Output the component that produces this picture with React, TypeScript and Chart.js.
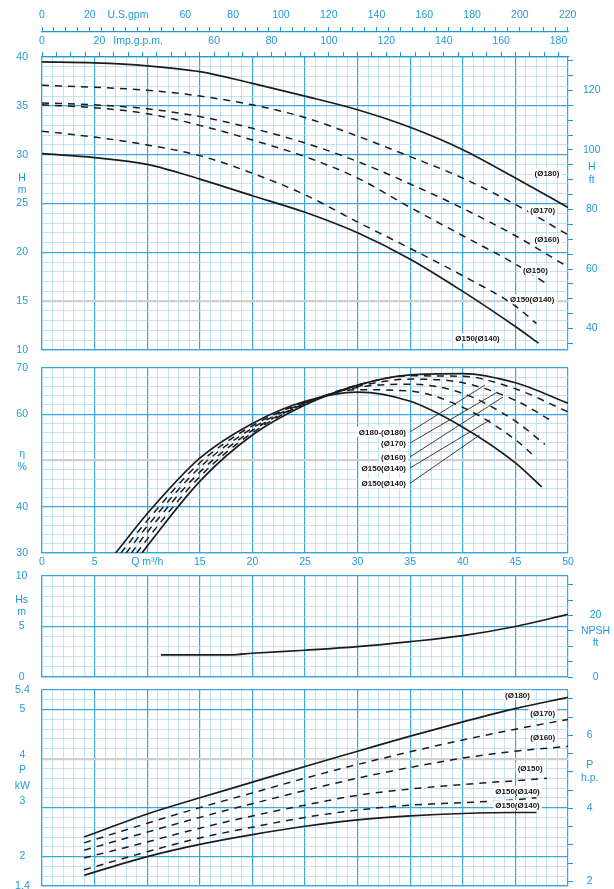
import React, { useEffect, useRef } from 'react';
import { Chart, registerables } from 'chart.js';

Chart.register(...registerables);

// ---------------- constants ----------------
const FT_PER_M = 3.28084;
const USGPM_PER_M3H = 4.402868;
const IMPGPM_PER_M3H = 3.666154;
const KW_PER_HP = 0.7457;

// ---------------- flow axis ----------------
const qMin = 0;
const qMax = 50;
const qTickLabels = [0, 5, 15, 20, 25, 30, 35, 40, 45, 50];
const qTitleAt = 10;
const qTitle = 'Q m³/h';

const usGpmLabels = [0, 20, 60, 80, 100, 120, 140, 160, 180, 200, 220];
const usGpmTitleAt = 36;
const usGpmTitle = 'U.S.gpm';
const impGpmLabels = [0, 20, 60, 80, 100, 120, 140, 160, 180];
const impGpmTitleAt = 33.5;
const impGpmTitle = 'Imp.g.p.m.';

// ---------------- head panel ----------------
const headTickValues = [40, 35, 30, 27, 25, 20, 15, 10];
const headTickTexts: any[] = ['40', '35', '30', ['H', 'm'], '25', '20', '15', '10'];
const ftTickValues = [40, 60, 80, 92, 100, 120];
const ftTickTexts: any[] = ['40', '60', '80', ['H', 'ft'], '100', '120'];
const ftLabelOnly = [92];

const qHeadA = [0, 5, 10, 15, 20, 25, 30, 35, 40, 45, 50];
const headA = [39.5, 39.4, 39.1, 38.5, 37.3, 36.0, 34.6, 32.8, 30.5, 27.6, 24.6];
const qHeadB = [0, 5, 10, 15, 20, 25, 30, 35, 40, 45, 50];
const headB = [37.1, 36.9, 36.6, 36.0, 35.1, 33.8, 31.9, 29.8, 27.6, 24.9, 21.8];
const qHeadC = [0, 5, 10, 15, 20, 25, 30, 35, 40, 45, 50];
const headC = [35.3, 35.1, 34.7, 33.9, 32.7, 31.2, 29.3, 27.0, 24.5, 21.7, 18.5];
const qHeadD = [0, 5, 10, 15, 20, 25, 30, 35, 40, 45, 47.8];
const headD = [35.1, 34.8, 34.2, 33.0, 31.5, 29.8, 27.6, 24.6, 21.7, 18.8, 16.9];
const qHeadE = [0, 5, 10, 15, 20, 25, 30, 35, 40, 45, 47];
const headE = [32.4, 31.8, 31.0, 29.9, 28.1, 25.9, 23.1, 20.4, 17.6, 14.5, 12.7];
const qHeadF = [0, 5, 10, 15, 20, 25, 30, 35, 40, 45, 47.2];
const headF = [30.1, 29.7, 29.0, 27.5, 25.8, 24.1, 22.0, 19.3, 16.0, 12.4, 10.7];

const curveNames = ['(Ø180)', '(Ø170)', '(Ø160)', '(Ø150)', 'Ø150(Ø140)', 'Ø150(Ø140)'];
const headLabelQ = [48.0, 47.6, 48.0, 46.9, 46.6, 41.4];
const headLabelH = [28.1, 24.3, 21.3, 18.2, 15.2, 11.2];

// ---------------- efficiency panel ----------------
const effTickValues = [70, 60, 50, 40, 30];
const effTickTexts: any[] = ['70', '60', ['η', '%'], '40', '30'];

const qEffA = [9.5, 10, 15, 20, 25, 30, 35, 40, 45, 50];
const effA = [30, 31.5, 45.5, 55.5, 62, 66.3, 68.5, 68.8, 66.8, 62.4];
const qEffB = [9, 10, 15, 20, 25, 30, 35, 40, 45, 50];
const effB = [30, 33, 46.5, 56, 62.3, 66.3, 68.3, 68.2, 65.5, 60.5];
const qEffC = [8.5, 10, 15, 20, 25, 30, 35, 40, 45, 48.3];
const effC = [30, 34.5, 47.5, 56.5, 62.3, 66, 67.6, 66.8, 63, 58.8];
const qEffD = [8, 10, 15, 20, 25, 30, 35, 40, 45, 47.8];
const effD = [30, 35.8, 48.5, 57, 62.5, 65.8, 66.5, 64.5, 58.5, 53.5];
const qEffE = [7.5, 10, 15, 20, 25, 30, 35, 40, 45, 47];
const effE = [30, 37, 49.5, 57.5, 62.6, 65.3, 65, 61.5, 54.5, 50.5];
const qEffF = [7, 10, 15, 20, 25, 30, 35, 40, 45, 47.5];
const effF = [30, 38.5, 50.5, 58, 62.8, 64.8, 62.8, 57.2, 49.5, 44.3];

const effLegendNames = ['Ø180-(Ø180)', '(Ø170)', '(Ø160)', 'Ø150(Ø140)', 'Ø150(Ø140)'];
const effLegendQ = 34.6;
const effLegendEta = [56.2, 53.8, 50.8, 48.4, 45.1];
const leaderStartQ = 35.0;
const leaderEndQ = [42.1, 43.3, 43.8, 42.6, 41.6];
const leaderEndEta = [66.3, 64.8, 63.7, 58.8, 55.5];

// ---------------- NPSH panel ----------------
const npshTickValues = [10, 7, 5, 0];
const npshTickTexts: any[] = ['10', ['Hs', 'm'], '5', '0'];
const npshFtValues = [0, 13, 20];
const npshFtTexts: any[] = ['0', ['NPSH', 'ft'], '20'];
const npshFtLabelOnly = [13];

const qNpsh = [11.3, 15, 18, 20, 25, 30, 35, 40, 45, 50];
const npsh = [2.2, 2.2, 2.2, 2.35, 2.65, 3.0, 3.5, 4.1, 5.0, 6.2];

// ---------------- power panel ----------------
const powTickValues = [5.4, 5, 3.6, 2, 1.4];
const powTickTexts: any[] = ['5.4', '5', ['4', 'P', 'kW', '3'], '2', '1.4'];
const hpTickValues = [2, 4, 5, 6];
const hpTickTexts: any[] = ['2', '4', ['P', 'h.p.'], '6'];

const qPowA = [4, 10, 15, 20, 25, 30, 35, 40, 45, 50];
const powA = [2.40, 2.87, 3.2, 3.52, 3.84, 4.15, 4.46, 4.75, 5.02, 5.25];
const qPowB = [4, 10, 15, 20, 25, 30, 35, 40, 45, 50];
const powB = [2.28, 2.68, 3.0, 3.3, 3.6, 3.88, 4.14, 4.38, 4.6, 4.8];
const qPowC = [4, 10, 15, 20, 25, 30, 35, 40, 45, 50];
const powC = [2.13, 2.5, 2.8, 3.08, 3.35, 3.6, 3.82, 4.01, 4.15, 4.25];
const qPowD = [4, 10, 15, 20, 25, 30, 35, 40, 45, 48];
const powD = [1.97, 2.3, 2.58, 2.83, 3.05, 3.25, 3.38, 3.47, 3.55, 3.6];
const qPowE = [4, 10, 15, 20, 25, 30, 35, 40, 45, 47];
const powE = [1.73, 2.1, 2.38, 2.6, 2.8, 2.95, 3.05, 3.1, 3.16, 3.2];
const qPowF = [4, 10, 15, 20, 25, 30, 35, 40, 45, 47];
const powF = [1.62, 2.0, 2.25, 2.45, 2.62, 2.75, 2.83, 2.88, 2.9, 2.9];

const powLabelQ = [45.2, 47.6, 47.6, 46.4, 45.2, 45.2];
const powLabelP = [5.30, 4.93, 4.44, 3.81, 3.34, 3.05];

// ---------------- styles ----------------
const BLUE = '#1f9ad6';
const MAJOR = '#3aa5de';
const MINOR = '#a6d7f0';
const GREY = '#cfcfcf';
const LINE = '#1c1c1c';
const FONT = "'Liberation Sans', Arial, sans-serif";
const tickFont = { family: FONT, size: 10.5 };

const near = (a: number, b: number) => Math.abs(a - b) < 1e-6;

function pickLabel(v: number, values: number[], texts: any[]) {
  for (let i = 0; i < values.length; i++) if (near(values[i], v)) return texts[i];
  return '';
}

function gridStyle(majorEvery: number, greyVals: number[], min: number, max: number) {
  const kind = (ctx: any) => {
    const v = ctx.tick ? ctx.tick.value : null;
    if (v == null) return 'minor';
    if (greyVals.some((g) => near(g, v))) return 'grey';
    const r = v / majorEvery;
    if (near(r, Math.round(r)) || near(v, min) || near(v, max)) return 'major';
    return 'minor';
  };
  return {
    drawTicks: false,
    color: (ctx: any) => {
      const k = kind(ctx);
      return k === 'grey' ? GREY : k === 'major' ? MAJOR : MINOR;
    },
    lineWidth: (ctx: any) => {
      const k = kind(ctx);
      return k === 'grey' ? 2.2 : k === 'major' ? 1.2 : 0.7;
    },
  };
}

function qAxis(showLabels: boolean) {
  return {
    type: 'linear',
    axis: 'x',
    position: 'bottom',
    min: qMin,
    max: qMax,
    afterFit: (s: any) => {
      s.height = showLabels ? 16 : 0;
    },
    ticks: {
      stepSize: 1,
      autoSkip: false,
      maxRotation: 0,
      minRotation: 0,
      display: showLabels,
      padding: 3,
      color: BLUE,
      font: tickFont,
      callback: (v: number) =>
        near(v, qTitleAt) ? qTitle : qTickLabels.some((l) => near(l, v)) ? String(v) : '',
    },
    grid: gridStyle(5, [], qMin, qMax),
    border: { display: true, color: MAJOR, width: 1.2 },
  };
}

function topAxis(factor: number, labels: number[], titleAt: number, title: string, height: number, pad: number, weight: number) {
  return {
    type: 'linear',
    axis: 'x',
    position: 'top',
    weight,
    min: qMin * factor,
    max: qMax * factor,
    afterFit: (s: any) => {
      s.height = height;
    },
    afterBuildTicks: (s: any) => {
      s.ticks = [...s.ticks, { value: titleAt }].sort((a: any, b: any) => a.value - b.value);
    },
    ticks: {
      stepSize: 5,
      includeBounds: false,
      autoSkip: false,
      maxRotation: 0,
      minRotation: 0,
      padding: pad,
      color: BLUE,
      font: tickFont,
      callback: (v: number) =>
        near(v, titleAt) ? title : labels.some((l) => near(l, v)) ? String(v) : '',
    },
    grid: {
      drawOnChartArea: false,
      drawTicks: true,
      tickLength: 5,
      tickWidth: 1,
      tickColor: (ctx: any) => (ctx.tick && near(ctx.tick.value, titleAt) ? 'rgba(0,0,0,0)' : BLUE),
    },
    border: { display: true, color: BLUE, width: 1.2 },
  };
}

function leftAxis(min: number, max: number, step: number, majorEvery: number, values: number[], texts: any[], grey: number[], pad: number, lineHeight = 1.2) {
  return {
    type: 'linear',
    axis: 'y',
    position: 'left',
    min,
    max,
    afterFit: (s: any) => {
      s.width = 42;
      s.paddingTop = 0;
      s.paddingBottom = 0;
    },
    ticks: {
      stepSize: step,
      autoSkip: false,
      padding: pad,
      crossAlign: 'center',
      color: BLUE,
      font: { ...tickFont, lineHeight },
      callback: (v: number) => pickLabel(v, values, texts),
    },
    grid: gridStyle(majorEvery, grey, min, max),
    border: { display: true, color: MAJOR, width: 1.2 },
  };
}

function rightAxis(min: number, max: number, step: number, values: number[], texts: any[], labelOnly: number[], pad: number) {
  return {
    type: 'linear',
    axis: 'y',
    position: 'right',
    min,
    max,
    afterFit: (s: any) => {
      s.width = 46;
      s.paddingTop = 0;
      s.paddingBottom = 0;
    },
    afterBuildTicks: (s: any) => {
      s.ticks = [...s.ticks, ...labelOnly.map((v) => ({ value: v }))].sort((a: any, b: any) => a.value - b.value);
    },
    ticks: {
      stepSize: step,
      includeBounds: false,
      autoSkip: false,
      padding: pad,
      crossAlign: 'center',
      color: BLUE,
      font: tickFont,
      callback: (v: number) => pickLabel(v, values, texts),
    },
    grid: {
      drawOnChartArea: false,
      drawTicks: true,
      tickLength: 5,
      tickWidth: 1,
      tickColor: (ctx: any) => (ctx.tick && labelOnly.some((l) => near(l, ctx.tick.value)) ? 'rgba(0,0,0,0)' : BLUE),
    },
    border: { display: false },
  };
}

function curve(qs: number[], vs: number[], dashed: boolean) {
  return {
    data: qs.map((q, i) => ({ x: q, y: vs[i] })),
    borderColor: LINE,
    borderWidth: dashed ? 1.5 : 1.7,
    borderDash: dashed ? [7, 6] : [],
    pointRadius: 0,
    fill: false,
    cubicInterpolationMode: 'monotone',
    xAxisID: 'x',
    yAxisID: 'y',
  };
}

function leader(q0: number, v0: number, q1: number, v1: number) {
  return {
    data: [
      { x: q0, y: v0 },
      { x: q1, y: v1 },
    ],
    borderColor: '#2a2a2a',
    borderWidth: 0.9,
    pointRadius: 0,
    tension: 0,
    fill: false,
    xAxisID: 'x',
    yAxisID: 'y',
  };
}

function labelPlugin(texts: string[], qs: number[], vs: number[], align: 'center' | 'right') {
  return {
    id: 'curveLabels',
    afterDatasetsDraw(chart: any) {
      const { ctx, scales } = chart;
      ctx.save();
      ctx.font = `bold 8px ${FONT}`;
      ctx.textBaseline = 'middle';
      ctx.textAlign = align;
      texts.forEach((t, i) => {
        const x = scales.x.getPixelForValue(qs[i]);
        const y = scales.y.getPixelForValue(vs[i]);
        const w = ctx.measureText(t).width;
        const left = align === 'right' ? x - w : x - w / 2;
        ctx.fillStyle = '#ffffff';
        ctx.fillRect(left - 2, y - 5, w + 4, 10);
        ctx.fillStyle = '#151515';
        ctx.fillText(t, x, y + 0.5);
      });
      ctx.restore();
    },
  };
}

function baseOptions(padding: any, scales: any) {
  return {
    responsive: false,
    animation: false,
    events: [],
    layout: { padding },
    plugins: { legend: { display: false }, tooltip: { enabled: false } },
    scales,
  };
}

// ---------------- configs ----------------
const headConfig = () => ({
  type: 'line',
  data: {
    datasets: [
      curve(qHeadA, headA, false),
      curve(qHeadB, headB, true),
      curve(qHeadC, headC, true),
      curve(qHeadD, headD, true),
      curve(qHeadE, headE, true),
      curve(qHeadF, headF, false),
    ],
  },
  options: baseOptions(
    { top: 0, bottom: 6, left: 0, right: 0 },
    {
      x: qAxis(false),
      ximp: topAxis(IMPGPM_PER_M3H, impGpmLabels, impGpmTitleAt, impGpmTitle, 25, 5, 0),
      xus: topAxis(USGPM_PER_M3H, usGpmLabels, usGpmTitleAt, usGpmTitle, 32, 6, 1),
      y: leftAxis(10, 40, 1, 5, headTickValues, headTickTexts, [15], 14),
      yft: rightAxis(10 * FT_PER_M, 40 * FT_PER_M, 5, ftTickValues, ftTickTexts, ftLabelOnly, 10),
    }
  ),
  plugins: [labelPlugin(curveNames, headLabelQ, headLabelH, 'center')],
});

const effConfig = () => ({
  type: 'line',
  data: {
    datasets: [
      curve(qEffA, effA, false),
      curve(qEffB, effB, true),
      curve(qEffC, effC, true),
      curve(qEffD, effD, true),
      curve(qEffE, effE, true),
      curve(qEffF, effF, false),
      ...leaderEndQ.map((q, i) => leader(leaderStartQ, effLegendEta[i], q, leaderEndEta[i])),
    ],
  },
  options: baseOptions(
    { top: 12, bottom: 0, left: 0, right: 46 },
    {
      x: qAxis(true),
      y: leftAxis(30, 70, 2, 10, effTickValues, effTickTexts, [50], 14),
    }
  ),
  plugins: [labelPlugin(effLegendNames, effLegendNames.map(() => effLegendQ), effLegendEta, 'right')],
});

const npshConfig = () => ({
  type: 'line',
  data: { datasets: [curve(qNpsh, npsh, false)] },
  options: baseOptions(
    { top: 7, bottom: 6, left: 0, right: 0 },
    {
      x: qAxis(false),
      y: leftAxis(0, 10, 1, 5, npshTickValues, npshTickTexts, [], 14),
      yft: rightAxis(0, 10 * FT_PER_M, 5, npshFtValues, npshFtTexts, npshFtLabelOnly, 8),
    }
  ),
});

const powConfig = () => ({
  type: 'line',
  data: {
    datasets: [
      curve(qPowA, powA, false),
      curve(qPowB, powB, true),
      curve(qPowC, powC, true),
      curve(qPowD, powD, true),
      curve(qPowE, powE, true),
      curve(qPowF, powF, false),
    ],
  },
  options: baseOptions(
    { top: 7, bottom: 6, left: 0, right: 0 },
    {
      x: qAxis(false),
      y: leftAxis(1.4, 5.4, 0.2, 1, powTickValues, powTickTexts, [4], 12, 1.45),
      yhp: rightAxis(1.4 / KW_PER_HP, 5.4 / KW_PER_HP, 0.5, hpTickValues, hpTickTexts, [], 8),
    }
  ),
  plugins: [labelPlugin(curveNames, powLabelQ, powLabelP, 'center')],
});

function Panel({ top, height, build }: { top: number; height: number; build: () => any }) {
  const ref = useRef<HTMLCanvasElement | null>(null);
  useEffect(() => {
    const chart = new Chart(ref.current as HTMLCanvasElement, build() as any);
    return () => chart.destroy();
  }, []);
  return (
    <canvas
      ref={ref}
      width={614}
      height={height}
      style={{ position: 'absolute', left: 0, top, width: 614, height, display: 'block' }}
    />
  );
}

export default function App() {
  return (
    <div
      style={{
        position: 'absolute',
        left: 0,
        top: 0,
        width: 614,
        height: 889,
        overflow: 'hidden',
        background: '#ffffff',
        fontFamily: FONT,
      }}
    >
      <Panel top={0} height={356} build={headConfig} />
      <Panel top={356} height={213} build={effConfig} />
      <Panel top={569} height={114} build={npshConfig} />
      <Panel top={683} height={209} build={powConfig} />
    </div>
  );
}
